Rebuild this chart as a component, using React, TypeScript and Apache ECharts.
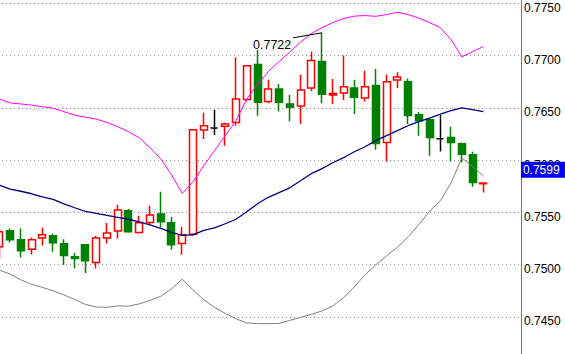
import { useEffect, useRef } from 'react';
import * as echarts from 'echarts';

// Candle data (open, close, low, high)
const opens = [0.75169, 0.75322, 0.75236, 0.75147, 0.75253, 0.75275, 0.75198, 0.75074, 0.75189, 0.75019,
  0.75253, 0.7532, 0.75514, 0.75306, 0.75402, 0.75483, 0.75399, 0.75201, 0.7529, 0.76287,
  0.76306, 0.76322, 0.7636, 0.76578, 0.76913, 0.76561, 0.7668, 0.76536, 0.76517, 0.7669,
  0.76942, 0.76621, 0.76642, 0.7669, 0.76594, 0.76712, 0.76168, 0.76766, 0.7675, 0.76434,
  0.76386, 0.76204, 0.76216, 0.76156, 0.76051, 0.75773];
const closes = [0.75313, 0.75236, 0.75131, 0.75236, 0.75284, 0.75208, 0.75087, 0.75058, 0.75035, 0.75253,
  0.75301, 0.75521, 0.75313, 0.75399, 0.75473, 0.75409, 0.75189, 0.75284, 0.7629, 0.76328,
  0.76306, 0.76345, 0.76584, 0.76903, 0.76552, 0.7668, 0.76552, 0.76504, 0.7667, 0.76951,
  0.76628, 0.76637, 0.76702, 0.766, 0.76702, 0.76159, 0.7675, 0.76795, 0.76427, 0.76376,
  0.76216, 0.76204, 0.76168, 0.76054, 0.75785, 0.7578];
const lows = [0.75054, 0.7521, 0.75067, 0.75095, 0.75182, 0.75121, 0.74998, 0.74963, 0.74918, 0.74963,
  0.75201, 0.75249, 0.75303, 0.75297, 0.7538, 0.75354, 0.75141, 0.75093, 0.75275, 0.76201,
  0.76239, 0.76137, 0.76328, 0.76559, 0.76424, 0.76542, 0.76465, 0.7637, 0.76345, 0.76657,
  0.76542, 0.76536, 0.76575, 0.76441, 0.76561, 0.76099, 0.75984, 0.7669, 0.76345, 0.76233,
  0.76041, 0.76082, 0.75986, 0.75977, 0.75744, 0.75689];
const highs = [0.7534, 0.75345, 0.75345, 0.75258, 0.75354, 0.75297, 0.75242, 0.7511, 0.75195, 0.75275,
  0.75396, 0.75569, 0.7553, 0.75466, 0.75562, 0.75696, 0.75457, 0.75361, 0.76297, 0.76453,
  0.76482, 0.76357, 0.76983, 0.7691, 0.77054, 0.76769, 0.76728, 0.76623, 0.76817, 0.77037,
  0.77217, 0.76776, 0.76999, 0.76769, 0.76855, 0.76872, 0.76817, 0.76839, 0.76779, 0.7646,
  0.76402, 0.76431, 0.76319, 0.76168, 0.76079, 0.75785];

// Bollinger bands
const upperBand = [0.76584, 0.76546, 0.76536, 0.76525, 0.7651, 0.76496, 0.76463, 0.76429, 0.7641, 0.76391,
  0.7636, 0.76319, 0.76271, 0.76213, 0.76118, 0.76012, 0.75859, 0.7568, 0.75792, 0.75945,
  0.76089, 0.76233, 0.76376, 0.76584, 0.76721, 0.76846, 0.76942, 0.77033, 0.77128, 0.7721,
  0.77267, 0.77315, 0.77354, 0.77377, 0.77382, 0.77375, 0.77392, 0.77414, 0.77392, 0.77358,
  0.77315, 0.77267, 0.77152, 0.76987, 0.77037, 0.77085];
const middleBand = [0.7576, 0.75722, 0.75701, 0.75677, 0.75648, 0.75624, 0.75581, 0.75543, 0.75509, 0.7549,
  0.75471, 0.75452, 0.75433, 0.75409, 0.7538, 0.75346, 0.75308, 0.75279, 0.75284, 0.75327,
  0.75351, 0.7539, 0.75433, 0.75505, 0.75581, 0.75643, 0.75687, 0.75734, 0.75801, 0.75869,
  0.75917, 0.75974, 0.76022, 0.76079, 0.76127, 0.76185, 0.76233, 0.76281, 0.76328, 0.76367,
  0.764, 0.76439, 0.76472, 0.76498, 0.76482, 0.76463];
const lowerBand = [0.74946, 0.74908, 0.74853, 0.7481, 0.74781, 0.74748, 0.74709, 0.74666, 0.74618, 0.74594,
  0.7459, 0.74604, 0.74601, 0.74623, 0.74657, 0.74695, 0.74767, 0.7486, 0.74757, 0.74662,
  0.7459, 0.74532, 0.7448, 0.74441, 0.74434, 0.74434, 0.74436, 0.74465, 0.74494, 0.74523,
  0.74556, 0.74604, 0.74681, 0.74786, 0.74901, 0.74997, 0.75083, 0.75164, 0.75265, 0.7538,
  0.75509, 0.7561, 0.75782, 0.76019, 0.75936, 0.75849];

const emptySlots = ['46', '47', '48'];
const categories = opens.map((_, i) => String(i)).concat(emptySlots);

const yMin = 0.74;
const yMax = 0.78;
const yInterval = 0.005;
const currentPrice = 0.7599;
const markedHighIndex = 30;

// The chart canvas is a little larger than the window so that the visible window
// shows the price range 0.7414 – 0.7753 while ticks stay on multiples of 0.005.
const OFF_LEFT = 5.93;
const OFF_TOP = 49.5;
const CANVAS_W = 565 + OFF_LEFT;
const CANVAS_H = 417.6;
const AXIS_W = 44;

export default function App() {
  const ref = useRef<HTMLDivElement>(null);
  useEffect(() => {
    if (!ref.current) return;
    const chart = echarts.init(ref.current, null, { renderer: 'svg' });
    const candleData = opens.map((o, i) => [o, closes[i], lows[i], highs[i]]);
    chart.setOption({
      animation: false,
      backgroundColor: '#ffffff',
      grid: { left: 0, right: AXIS_W, top: 0, bottom: 0, containLabel: false },
      xAxis: { type: 'category', data: categories, show: false, boundaryGap: true },
      yAxis: {
        type: 'value',
        position: 'right',
        min: yMin,
        max: yMax,
        interval: yInterval,
        axisLine: { show: true, lineStyle: { color: '#777777', width: 1 } },
        axisTick: { show: false },
        axisLabel: {
          color: '#000000',
          fontSize: 12,
          fontFamily: '"Liberation Sans", Arial, sans-serif',
          margin: 3,
          verticalAlign: 'top',
          lineHeight: 9,
          showMinLabel: false,
          showMaxLabel: false,
          formatter: (v: number) => v.toFixed(4),
        },
        splitLine: { show: true, lineStyle: { color: '#8a8a8a', type: [1, 3], width: 1 } },
      },
      series: [
        {
          type: 'candlestick',
          data: candleData,
          barWidth: 7.5,
          itemStyle: {
            color: '#ffffff',
            color0: '#008000',
            borderColor: '#ff0000',
            borderColor0: '#008000',
            borderColorDoji: '#000000',
            borderWidth: 1.5,
          },
          z: 2,
        },
        {
          type: 'line', data: upperBand, symbol: 'none', z: 3,
          lineStyle: { color: '#ff00ff', width: 1 },
        },
        {
          type: 'line', data: middleBand, symbol: 'none', z: 3,
          lineStyle: { color: '#000080', width: 1.3 },
        },
        {
          type: 'line', data: lowerBand, symbol: 'none', z: 3,
          lineStyle: { color: '#808080', width: 1 },
        },
      ],
    });
    const hp = chart.convertToPixel({ gridIndex: 0 }, [markedHighIndex, highs[markedHighIndex]]) as number[];
    const pp = chart.convertToPixel({ gridIndex: 0 }, [0, currentPrice]) as number[];
    const axisX = CANVAS_W - AXIS_W;
    chart.setOption({
      graphic: [
        {
          type: 'line', z: 10,
          shape: { x1: hp[0] - 29, y1: hp[1] + 5, x2: hp[0], y2: hp[1] },
          style: { stroke: '#000000', lineWidth: 1 },
        },
        {
          type: 'text', z: 10, x: hp[0] - 69, y: hp[1] + 12.5,
          style: {
            text: highs[markedHighIndex].toFixed(4), fill: '#000000',
            font: '12.5px "Liberation Sans", Arial, sans-serif', verticalAlign: 'middle',
          },
        },
        {
          type: 'rect', z: 10,
          shape: { x: axisX, y: pp[1] + 0.7, width: AXIS_W, height: 16 },
          style: { fill: '#0000ff' },
        },
        {
          type: 'text', z: 11, x: axisX + 2, y: pp[1] + 8.7,
          style: {
            text: currentPrice.toFixed(4), fill: '#ffffb0',
            font: '12px "Liberation Sans", Arial, sans-serif', verticalAlign: 'middle',
          },
        },
      ],
    });
    return () => chart.dispose();
  }, []);
  return (
    <div
      ref={ref}
      style={{
        position: 'fixed', left: -OFF_LEFT, top: -OFF_TOP,
        width: CANVAS_W, height: CANVAS_H, background: '#fff',
      }}
    />
  );
}
